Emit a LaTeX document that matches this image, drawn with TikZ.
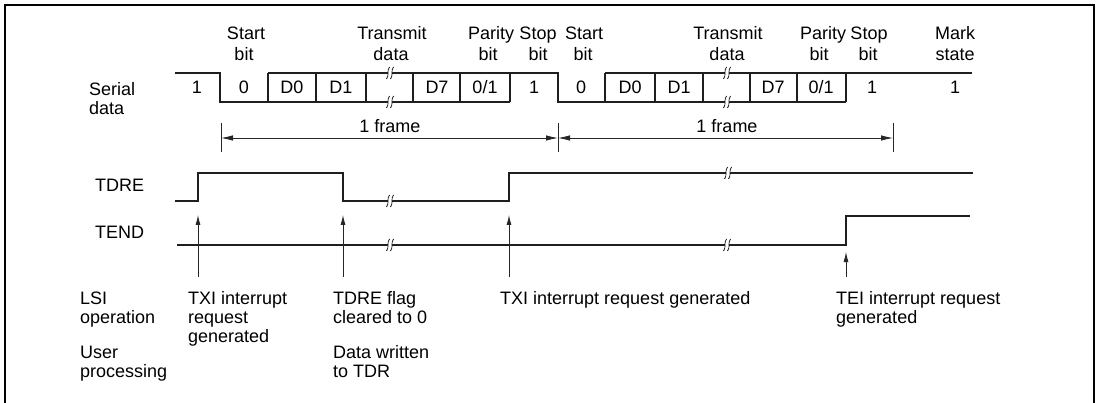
\documentclass[tikz,border=0pt]{standalone}
\usepackage{fontspec}
\setmainfont{Liberation Sans}
\usetikzlibrary{arrows.meta}
\begin{document}
\begin{tikzpicture}[x=1pt,y=-1pt,
  font=\fontsize{18}{20}\selectfont,
  wave/.style={line width=2.3pt, color=black!88, line join=miter},
  thinl/.style={line width=0.8pt, color=black!85},
  frameline/.style={line width=2pt, color=black},
  lbl/.style={anchor=base, inner sep=0pt},
  lbll/.style={anchor=base west, inner sep=0pt},
  upar/.style={thinl, -{Latex[length=10pt,width=5pt]}},
  dimar/.style={thinl, {Latex[length=12pt,width=5.5pt]}-{Latex[length=12pt,width=5.5pt]}}]
\useasboundingbox (0,0) rectangle (1102,403);
% frame
\draw[frameline] (5,403) -- (5,5) -- (1094,5) -- (1094,403);

% ---------- serial data waveform ----------
\draw[wave] (175,73) -| (220,102) -- (510,102);
\draw[wave] (268,73) -- (558,73) |- (846,102);
\draw[wave] (605,73) -- (972,73);
\foreach \xx in {268,316,366,413,460,510,605,655,703,750,797,846}
  \draw[wave] (\xx,73) -- (\xx,102);

% ---------- TDRE ----------
\draw[wave] (175,201) -| (198,173) -| (343,201) -| (509,173) -- (973,173);
% ---------- TEND ----------
\draw[wave] (177,245) -| (846,216) -- (970,216);

% ---------- break marks ----------
\foreach \xx/\yy in {390/73,390/102,727/73,727/102,390/201,728/173,390/245,727/245}{
  \fill[white] (\xx-3.5,\yy+6) -- (\xx-0.5,\yy-6) -- (\xx+3.5,\yy-6) -- (\xx+0.5,\yy+6) -- cycle;
  \draw[line width=0.7pt] (\xx-3.5,\yy+6) .. controls (\xx-0.5,\yy+3) and (\xx-3.5,\yy-3) .. (\xx-0.5,\yy-6);
  \draw[line width=0.7pt] (\xx+0.5,\yy+6) .. controls (\xx+3.5,\yy+3) and (\xx+0.5,\yy-3) .. (\xx+3.5,\yy-6);
}

% ---------- frame dimension ----------
\coordinate (f0t) at (221,123); \coordinate (f0b) at (221,152);
\coordinate (f1t) at (558,123); \coordinate (f1b) at (558,152);
\coordinate (f2t) at (893,123); \coordinate (f2b) at (893,152);
\draw[thinl] (f0t) -- (f0b);
\draw[thinl] (f1t) -- (f1b);
\draw[thinl] (f2t) -- (f2b);
\coordinate (f0m) at (221,138); \coordinate (f1m) at (558,138); \coordinate (f2m) at (893,138);
\draw[dimar] (f0m) -- (f1m);
\draw[dimar] (f1m) -- (f2m);
\node[lbl] (fr1) at (390,133) {1 frame};
\node[lbl] (fr2) at (727,133) {1 frame};

% ---------- event arrows ----------
\coordinate (a1s) at (198,277); \coordinate (a1e) at (198,215);
\coordinate (a2s) at (343,277); \coordinate (a2e) at (343,215);
\coordinate (a3s) at (509,277); \coordinate (a3e) at (509,215);
\coordinate (a4s) at (846,277); \coordinate (a4e) at (846,252);
\draw[upar] (a1s) -- (a1e);
\draw[upar] (a2s) -- (a2e);
\draw[upar] (a3s) -- (a3e);
\draw[upar] (a4s) -- (a4e);

% ---------- top labels ----------
\node[lbl] (t1a) at (246,40) {Start};   \node[lbl] (t1b) at (244,61) {bit};
\node[lbl] (t2a) at (392,40) {Transmit};\node[lbl] (t2b) at (391,61) {data};
\node[lbl] (t3a) at (491,40) {Parity};  \node[lbl] (t3b) at (488,61) {bit};
\node[lbl] (t4a) at (538,40) {Stop};    \node[lbl] (t4b) at (538,61) {bit};
\node[lbl] (t5a) at (584,40) {Start};   \node[lbl] (t5b) at (583,61) {bit};
\node[lbl] (t6a) at (728,40) {Transmit};\node[lbl] (t6b) at (727,61) {data};
\node[lbl] (t7a) at (823,40) {Parity};  \node[lbl] (t7b) at (819,61) {bit};
\node[lbl] (t8a) at (869,40) {Stop};    \node[lbl] (t8b) at (868,61) {bit};
\node[lbl] (t9a) at (955,40) {Mark};    \node[lbl] (t9b) at (955,61) {state};

% ---------- bit values ----------
\foreach \xx/\tt [count=\i] in {197/1,244/0,292/D0,341/D1,437/D7,485/0\slash 1,534/1,581/0,630/D0,679/D1,773/D7,821/0\slash 1,872/1,955/1}
  \node[lbl] (b\i) at (\xx,94) {\tt};

% ---------- left labels ----------
\node[lbll] (sd1) at (89,96) {Serial};
\node[lbll] (sd2) at (89,115) {data};
\node[lbll] (tdre) at (95,192) {TDRE};
\node[lbll] (tend) at (95,239) {TEND};

% ---------- bottom labels ----------
\node[lbll] (l1) at (80,304) {LSI};
\node[lbll] (l2) at (80,323) {operation};
\node[lbll] (l3) at (80,358) {User};
\node[lbll] (l4) at (80,377) {processing};
\node[lbll] (m1) at (188,304) {TXI interrupt};
\node[lbll] (m2) at (188,323) {request};
\node[lbll] (m3) at (188,342) {generated};
\node[lbll] (n1) at (333,304) {TDRE flag};
\node[lbll] (n2) at (333,323) {cleared to 0};
\node[lbll] (n3) at (333,358) {Data written};
\node[lbll] (n4) at (333,377) {to TDR};
\node[lbll] (o1) at (500,304) {TXI interrupt request generated};
\node[lbll] (p1) at (836,304) {TEI interrupt request};
\node[lbll] (p2) at (836,323) {generated};
\end{tikzpicture}
\end{document}
